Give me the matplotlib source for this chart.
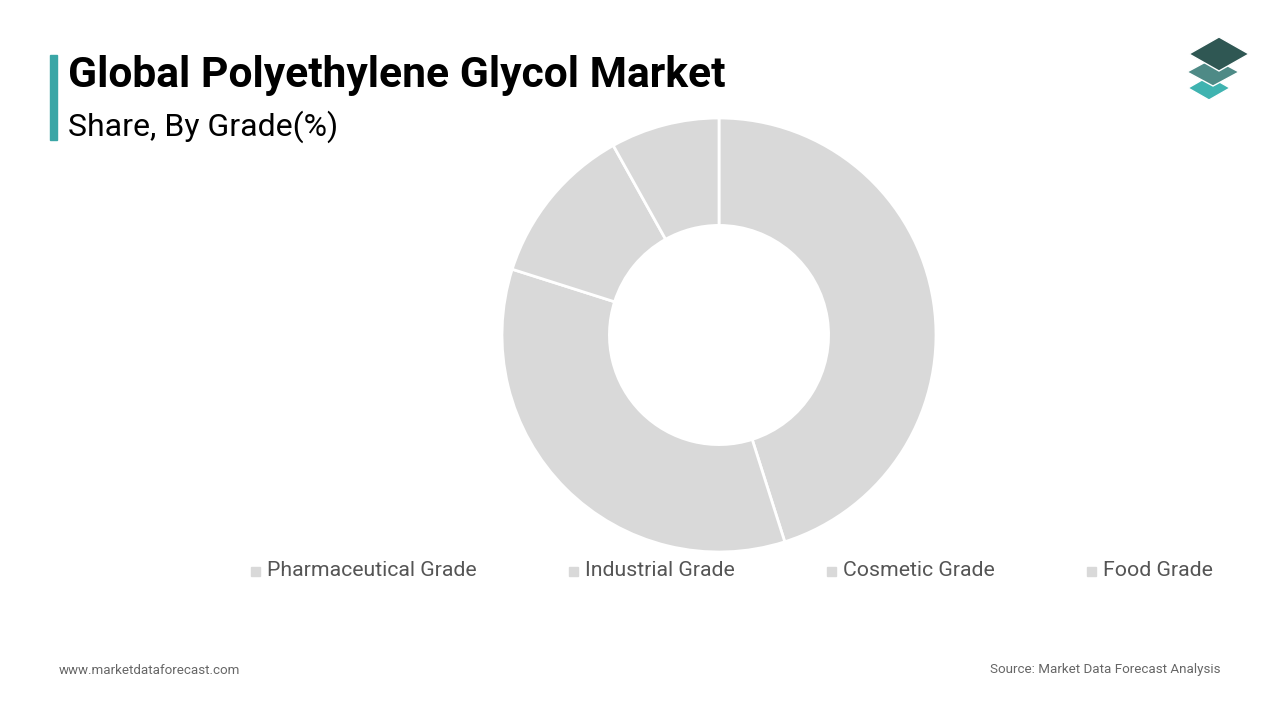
import matplotlib.pyplot as plt
from matplotlib.patches import Polygon, Rectangle

grades = ["Pharmaceutical Grade", "Industrial Grade", "Cosmetic Grade", "Food Grade"]
shares = [45.1, 34.8, 12.0, 8.1]
slice_color = "#d9d9d9"

fig = plt.figure(figsize=(12.8, 7.2), dpi=100)
fig.patch.set_facecolor("white")

# donut
ax = fig.add_axes([(719 - 217)/1280, 1 - 552/720, 434/1280, 434/720])
ax.pie(shares, startangle=90, counterclock=False, colors=[slice_color]*4,
       wedgeprops=dict(width=0.495, edgecolor="white", linewidth=2))
ax.set_xlim(-1, 1)
ax.set_ylim(-1, 1)
ax.set_aspect("equal")

# title block
fig.patches.append(Rectangle((50/1280, 1 - 140/720), 7/1280, 85/720,
                             transform=fig.transFigure, color="#3aa6a6"))
fig.text(68/1280, 1 - 75/720, "Global Polyethylene Glycol Market", fontsize=30.7,
         fontweight="bold", family="Roboto", va="center")
fig.text(68/1280, 1 - 127/720, "Share, By Grade(%)", fontsize=23,
         family="Roboto", va="center")

# legend
leg_x = [251, 569, 827, 1087]
for x, g in zip(leg_x, grades):
    fig.patches.append(Rectangle((x/1280, 1 - 576/720), 9/1280, 9/720,
                                 transform=fig.transFigure, color=slice_color))
    fig.text((x + 16)/1280, 1 - 571/720, g, fontsize=15.3, color="#555555",
             family="Roboto", va="center")

# footer
fig.text(59/1280, 1 - 670/720, "www.marketdataforecast.com", fontsize=9.6,
         color="#666666", family="Roboto", va="center")
fig.text(1220/1280, 1 - 670/720, "Source: Market Data Forecast Analysis", fontsize=9.6,
         color="#666666", family="Roboto", va="center", ha="right")

# logo
def diamond(cx, cy, w, h, c):
    pts = [((cx - w)/1280, 1 - cy/720), (cx/1280, 1 - (cy - h)/720),
           ((cx + w)/1280, 1 - cy/720), (cx/1280, 1 - (cy + h)/720)]
    fig.patches.append(Polygon(pts, closed=True, transform=fig.transFigure,
                               color=c, ec="white", lw=1))

diamond(1209, 88, 21, 12, "#3fb3b0")
diamond(1213, 72, 26, 14, "#4e8a86")
diamond(1219, 54, 30, 17, "#2f5753")

fig.savefig("out.png", dpi=100, facecolor="white")
